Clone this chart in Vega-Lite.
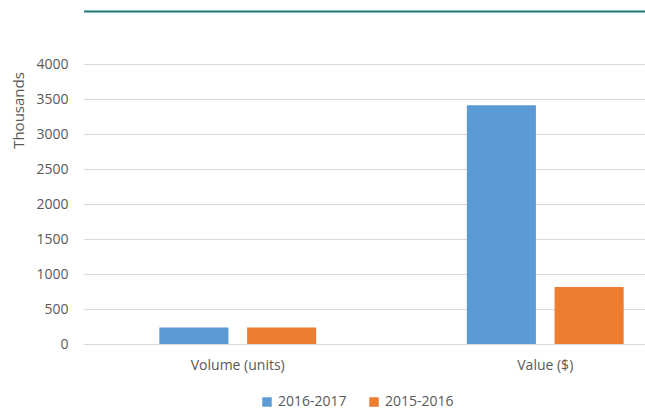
{
  "$schema": "https://vega.github.io/schema/vega-lite/v6.json",
  "width": 561,
  "height": 280,
  "autosize": "none",
  "padding": {"left": 84, "top": 64, "right": 0, "bottom": 66},
  "background": "white",
  "config": {
    "font": "Open Sans",
    "view": {"stroke": null},
    "axis": {"labelColor": "#595959", "titleColor": "#595959", "labelFont": "Open Sans", "titleFont": "Open Sans"},
    "axisY": {
      "titleFontSize": 15,
      "titleFontWeight": "normal",
      "titleAngle": -90,
      "titleAlign": "center",
      "titleBaseline": "middle",
      "titleX": -66,
      "titleY": 46,
      "labelOverlap": false,
      "labelFontSize": 14,
      "labelPadding": 16,
      "ticks": false,
      "domain": false,
      "grid": true,
      "gridColor": "#D9D9D9",
      "gridWidth": 1
    }
  },
  "datasets": {
    "bars": [
      {"category": "Volume (units)", "year": "2016-2017", "value": 237},
      {"category": "Volume (units)", "year": "2015-2016", "value": 236},
      {"category": "Value ($)", "year": "2016-2017", "value": 3411},
      {"category": "Value ($)", "year": "2015-2016", "value": 813}
    ],
    "header": [{"level": 4750}]
  },
  "layer": [
    {
      "data": {"name": "bars"},
      "mark": {"type": "bar"},
      "encoding": {
        "x": {
          "field": "category",
          "type": "nominal",
          "sort": ["Volume (units)", "Value ($)"],
          "scale": {"range": [0, 615], "paddingInner": 0.49, "paddingOuter": 0.245},
          "axis": {
            "title": null,
            "labelAngle": 0,
            "labelFontSize": 14,
            "labelPadding": 14,
            "ticks": false,
            "domainColor": "#D9D9D9",
            "domainWidth": 1,
            "grid": false
          }
        },
        "xOffset": {
          "field": "year",
          "type": "nominal",
          "sort": ["2016-2017", "2015-2016"],
          "scale": {"paddingInner": 0.213, "paddingOuter": 0}
        },
        "y": {
          "field": "value",
          "type": "quantitative",
          "scale": {"domain": [0, 4000], "nice": false},
          "axis": {
            "title": "Thousands",
            "titleFontSize": 15,
            "titleY": 46,
            "values": [0, 500, 1000, 1500, 2000, 2500, 3000, 3500, 4000],
            "format": "d"
          }
        },
        "color": {
          "field": "year",
          "type": "nominal",
          "sort": ["2016-2017", "2015-2016"],
          "scale": {"domain": ["2016-2017", "2015-2016"], "range": ["#5B9BD5", "#ED7D31"]},
          "legend": {
            "title": null,
            "orient": "none",
            "direction": "horizontal",
            "legendX": 176,
            "legendY": 331,
            "symbolType": "square",
            "symbolSize": 90,
            "symbolStrokeWidth": 0,
            "symbolOpacity": 1,
            "labelFontSize": 14,
            "labelColor": "#595959",
            "labelFont": "Open Sans",
            "labelOffset": 4,
            "columnPadding": 20
          }
        }
      }
    },
    {
      "data": {"name": "header"},
      "mark": {"type": "rule", "color": "#1B7B7B", "strokeWidth": 2, "clip": false},
      "encoding": {
        "y": {
          "field": "level",
          "type": "quantitative",
          "axis": {
            "title": "Thousands",
            "titleFontSize": 15,
            "titleY": 46,
            "values": [0, 500, 1000, 1500, 2000, 2500, 3000, 3500, 4000],
            "format": "d"
          }
        }
      }
    }
  ]
}
